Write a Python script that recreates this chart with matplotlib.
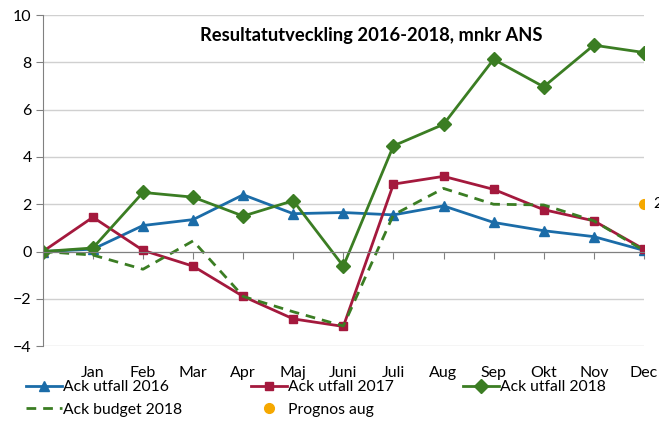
import numpy as np
import matplotlib
matplotlib.use("Agg")
import matplotlib.pyplot as plt

plt.rcParams['font.family'] = ['Lato', 'DejaVu Sans']

months = ["", "Jan", "Feb", "Mar", "Apr", "Maj", "Juni", "Juli", "Aug", "Sep", "Okt", "Nov", "Dec"]
utfall_2016 = [0, 0.1, 1.1, 1.35, 2.4, 1.6, 1.65, 1.55, 1.93, 1.23, 0.88, 0.63, 0.05]
utfall_2017 = [0, 1.45, 0.05, -0.62, -1.9, -2.85, -3.17, 2.85, 3.18, 2.63, 1.77, 1.3, 0.1]
utfall_2018 = [0, 0.15, 2.5, 2.3, 1.5, 2.15, -0.62, 4.47, 5.38, 8.13, 6.97, 8.73, 8.42]
budget_2018 = [0, -0.15, -0.75, 0.45, -1.9, -2.55, -3.15, 1.55, 2.67, 2.0, 1.97, 1.3, 0.05]
prognos_aug = [np.nan] * 12 + [2.0]

title = "Resultatutveckling 2016-2018, mnkr ANS"
blue = "#1B6CA8"
red = "#A4193D"
green = "#3B7D23"
orange = "#F5A800"

x = np.arange(len(months))

fig = plt.figure(figsize=(6.59, 4.21), dpi=100)
ax = fig.add_axes([0.065, 0.178, 0.912, 0.786])

l16, = ax.plot(x, utfall_2016, color=blue, lw=2, marker="^", ms=7, label="Ack utfall 2016")
l17, = ax.plot(x, utfall_2017, color=red, lw=2, marker="s", ms=6, label="Ack utfall 2017")
lb, = ax.plot(x, budget_2018, color=green, lw=2, ls=(0, (3.5, 2.5)), label="Ack budget 2018")
l18, = ax.plot(x, utfall_2018, color=green, lw=2, marker="D", ms=7, label="Ack utfall 2018")
lp, = ax.plot(x, prognos_aug, color=orange, ls="none", marker="o", ms=7, label="Prognos aug")
ax.annotate("2", (x[-1], prognos_aug[-1]), xytext=(7, 0), textcoords="offset points",
            va="center", ha="left", fontsize=11, annotation_clip=False)

ax.set_xlim(0, 12)
ax.set_ylim(-4, 10)
ax.set_yticks(np.arange(-4, 11, 2))
ax.grid(axis="y", color="#D0D0D0", lw=1)
ax.set_axisbelow(True)

for s in ["top", "right"]:
    ax.spines[s].set_visible(False)
ax.spines["left"].set_color("#808080")
ax.spines["bottom"].set_position(("data", 0))
ax.spines["bottom"].set_color("#808080")
ax.set_xticks(x)
ax.tick_params(axis="x", labelbottom=False, direction="out", length=5, color="#808080")
ax.tick_params(axis="y", direction="out", length=5, color="#808080", labelsize=11.5, pad=3)

sec = ax.secondary_xaxis("bottom")
sec.set_xticks(x[1:], months[1:])
sec.tick_params(length=0, pad=14, labelsize=11.5)
sec.spines["bottom"].set_visible(False)

# title sits a bit right of centre in the original
ax.text(0.547, 0.965, title, transform=ax.transAxes, ha="center", va="top",
        fontsize=13.2, fontweight="bold")

fig.legend(handles=[l16, lb, l17, lp, l18], loc="lower left", bbox_to_anchor=(0.03, -0.005),
           ncol=3, frameon=False, fontsize=11.3, handlelength=2.3, handletextpad=0.05,
           columnspacing=4.4, labelspacing=0.55, borderaxespad=0)

fig.savefig("out.png", dpi=100)
